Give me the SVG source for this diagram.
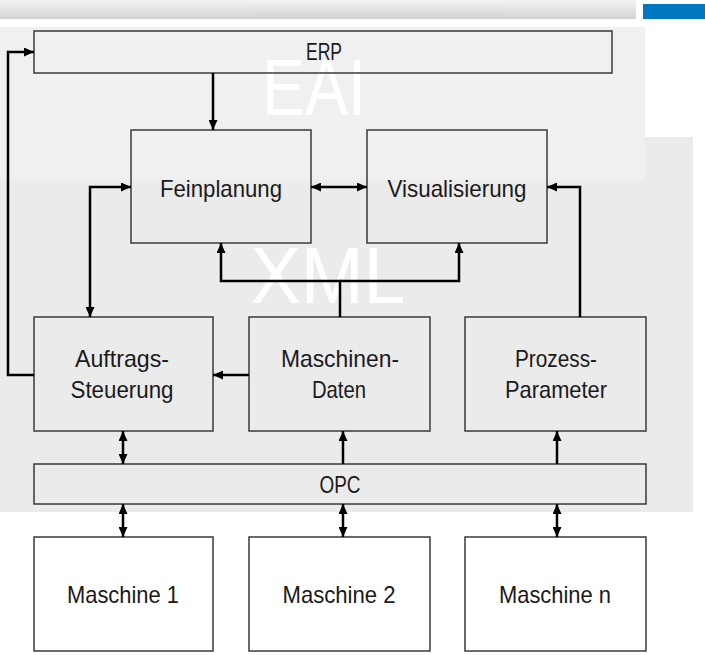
<svg xmlns="http://www.w3.org/2000/svg" width="705" height="655" viewBox="0 0 705 655">
<style>
.box{fill:none;stroke:#3a3a3a;stroke-width:1.5}
.wbox{fill:#ffffff;stroke:#3a3a3a;stroke-width:1.5}
.lbl{font-family:"Liberation Sans",Arial,sans-serif;font-size:24px;fill:#1a1a1a;text-anchor:middle}
.big{font-family:"Liberation Sans",Arial,sans-serif;font-size:80px;fill:#ffffff;text-anchor:middle}
.con{fill:none;stroke:#000;stroke-width:2.5}
.a1{marker-end:url(#ah)}
.a2{marker-start:url(#ah);marker-end:url(#ah)}
</style>
<defs>
<linearGradient id="bar" x1="0" y1="0" x2="0" y2="1">
<stop offset="0" stop-color="#f4f4f4"/>
<stop offset="1" stop-color="#d2d2d2"/>
</linearGradient>
<marker id="ah" markerUnits="userSpaceOnUse" markerWidth="10" markerHeight="9" refX="10" refY="4.5" orient="auto-start-reverse" viewBox="0 0 10 9">
<path d="M0,0 L10,4.5 L0,9 z" fill="#000"/>
</marker>
</defs>
<!-- background -->
<rect x="0" y="0" width="636" height="19" fill="url(#bar)"/>
<rect x="643" y="4" width="62" height="15" fill="#0077c0"/>
<rect x="0" y="137" width="693" height="375" fill="#ebebeb"/>
<rect x="0" y="27" width="645" height="153" fill="#f0f0f0"/>
<text class="big" x="314" y="115" textLength="104" lengthAdjust="spacingAndGlyphs">EAI</text>
<text class="big" x="328" y="303" textLength="155" lengthAdjust="spacingAndGlyphs">XML</text>

<g id="erp"><rect class="box" x="34" y="31" width="578" height="42"/><text class="lbl" x="324" y="60" textLength="36" lengthAdjust="spacingAndGlyphs">ERP</text></g>
<g id="feinplanung"><rect class="box" x="131" y="130" width="180" height="113"/><text class="lbl" x="221" y="197" textLength="122" lengthAdjust="spacingAndGlyphs">Feinplanung</text></g>
<g id="visualisierung"><rect class="box" x="367" y="130" width="180" height="113"/><text class="lbl" x="457" y="197" textLength="139" lengthAdjust="spacingAndGlyphs">Visualisierung</text></g>
<g id="auftrags"><rect class="box" x="34" y="317" width="179" height="114"/><text class="lbl" x="122" y="367" textLength="94" lengthAdjust="spacingAndGlyphs">Auftrags-</text><text class="lbl" x="122" y="398" textLength="103" lengthAdjust="spacingAndGlyphs">Steuerung</text></g>
<g id="maschinendaten"><rect class="box" x="249" y="317" width="181" height="114"/><text class="lbl" x="340" y="367" textLength="118" lengthAdjust="spacingAndGlyphs">Maschinen-</text><text class="lbl" x="339" y="398" textLength="54" lengthAdjust="spacingAndGlyphs">Daten</text></g>
<g id="prozess"><rect class="box" x="465" y="317" width="181" height="114"/><text class="lbl" x="556" y="367" textLength="82" lengthAdjust="spacingAndGlyphs">Prozess-</text><text class="lbl" x="556" y="398" textLength="102" lengthAdjust="spacingAndGlyphs">Parameter</text></g>
<g id="opc"><rect class="box" x="34" y="464" width="612" height="40"/><text class="lbl" x="340" y="493" textLength="41" lengthAdjust="spacingAndGlyphs">OPC</text></g>
<g id="maschine1"><rect class="wbox" x="34" y="537" width="179" height="114"/><text class="lbl" x="123" y="603" textLength="112" lengthAdjust="spacingAndGlyphs">Maschine 1</text></g>
<g id="maschine2"><rect class="wbox" x="249" y="537" width="181" height="114"/><text class="lbl" x="339" y="603" textLength="113" lengthAdjust="spacingAndGlyphs">Maschine 2</text></g>
<g id="maschinen"><rect class="wbox" x="465" y="537" width="181" height="114"/><text class="lbl" x="555" y="603" textLength="112" lengthAdjust="spacingAndGlyphs">Maschine n</text></g>

<g id="connectors">
<path class="con a1" d="M213,73 V130"/>
<path class="con a2" d="M311,187 H367"/>
<path class="con a2" d="M90,317 V187 H131"/>
<path class="con a1" d="M340,317 V281 H221 V243"/>
<path class="con a1" d="M340,281 H459 V243"/>
<path class="con a1" d="M580,317 V187 H547"/>
<path class="con a1" d="M249,375 H213"/>
<path class="con a1" d="M34,375 H8 V52 H34"/>
<path class="con a2" d="M123,431 V464"/>
<path class="con a1" d="M343,464 V431"/>
<path class="con a1" d="M557,464 V431"/>
<path class="con a2" d="M123,504 V537"/>
<path class="con a2" d="M343,504 V537"/>
<path class="con a2" d="M557,504 V537"/>
</g>
</svg>
